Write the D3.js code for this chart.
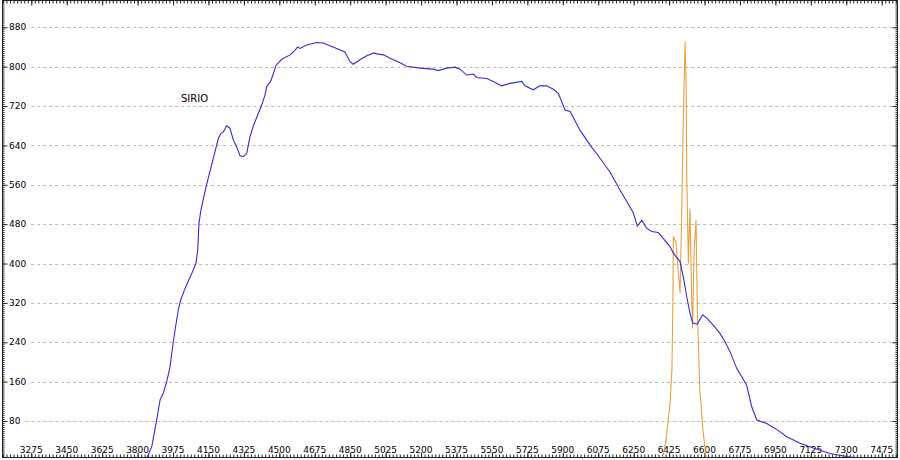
<!DOCTYPE html>
<html><head><meta charset="utf-8">
<script src="https://cdn.jsdelivr.net/npm/d3@7"></script>
<style>html,body{margin:0;padding:0;background:#fff;}svg{display:block;}</style>
</head><body>
<svg id="c" width="900" height="460"></svg>
<script>
// ---- data ----
const xTickLabels = [3275,3450,3625,3800,3975,4150,4325,4500,4675,4850,5025,5200,5375,5550,5725,5900,6075,6250,6425,6600,6775,6950,7125,7300,7475];
const yTickLabels = [80,160,240,320,400,480,560,640,720,800,880];
const seriesName = "SIRIO";
const sirioWl = [3830,3840,3870,3894,3911,3927,3944,3960,3976,3985,4001,4013,4030,4050,4070,4088,4097,4103,4113,4138,4174,4199,4212,4223,4240,4256,4273,4289,4306,4322,4339,4355,4371,4396,4413,4429,4438,4457,4470,4484,4512,4553,4577,4590,4602,4635,4685,4717,4783,4824,4849,4865,4898,4932,4968,4981,5014,5047,5096,5129,5195,5260,5285,5327,5368,5392,5425,5458,5475,5524,5557,5598,5639,5697,5713,5754,5787,5821,5853,5878,5911,5936,5985,6034,6084,6133,6183,6216,6248,6268,6290,6314,6339,6372,6396,6430,6446,6479,6495,6512,6528,6542,6564,6591,6611,6643,6676,6701,6726,6759,6784,6808,6833,6858,6907,6948,6973,7006,7072,7137,7220,7302,7343];
const sirioFlux = [-15,0,28,82,123,137,160,190,240,265,306,326,345,364,382,400,428,482,509,556,614,654,665,667,680,675,651,637,619,617,624,658,679,705,722,742,760,770,785,803,815,824,833,840,837,844,849,848,837,830,810,805,814,822,828,826,824,817,808,801,797,795,792,797,799,795,783,785,778,776,770,761,766,770,761,753,761,761,754,746,712,709,671,641,614,586,549,526,503,476,488,472,465,463,451,434,421,404,373,333,299,279,277,296,289,275,258,241,221,187,170,153,109,82,75,65,58,48,35,25,14,8,6];
const lampWl = [6375,6390,6410,6429,6439,6444,6446,6459,6479,6487,6495,6504,6509,6512,6520,6528,6537,6541,6548,6558,6564,6569,6577,6592,6610,6620];
const lampFlux = [-20,0,41,113,184,326,455,441,340,495,692,851,766,590,400,512,319,268,421,488,319,245,143,62,0,-20];

// ---- layout ----
const W = 900, H = 460;
const frame = {l: 2.5, t: 0.5, r: 897.5, b: 457.5};
const svg = d3.select("#c");
const x = d3.scaleLinear().domain([3275, 7475]).range([31.3, 881.7]);
const y = d3.scaleLinear().domain([0, 880]).range([460.4, 27.3]);
const font = "'DejaVu Sans', Verdana, sans-serif";

svg.append("rect").attr("width", W).attr("height", H).attr("fill", "#fff");

svg.append("defs").append("clipPath").attr("id", "clip")
  .append("rect").attr("x", frame.l).attr("y", frame.t)
  .attr("width", frame.r - frame.l).attr("height", frame.b - frame.t);

// y labels + gridlines
const yl = svg.append("g");
yTickLabels.forEach(v => {
  const t = yl.append("text").attr("x", 9).attr("y", y(v)).attr("dy", "0.35em")
    .attr("font-family", font).attr("font-size", 9).attr("fill", "#000").text(v);
  const w = t.node().getComputedTextLength();
  yl.append("line").attr("x1", 9 + w + 5).attr("x2", 893)
    .attr("y1", Math.round(y(v)) + 0.5).attr("y2", Math.round(y(v)) + 0.5)
    .attr("stroke", "#b8b8b8").attr("stroke-dasharray", "3,3");
});

// x labels
svg.append("g").selectAll("text").data(xTickLabels).join("text")
  .attr("x", d => x(d)).attr("y", 453).attr("text-anchor", "middle")
  .attr("font-family", font).attr("font-size", 9).attr("fill", "#000").text(d => d);

// ruler-like frame axes
const xMinor = d3.range(3275 - 175, 7475 + 176, 17.5).filter(v => x(v) > frame.l && x(v) < frame.r);
const yMinor = d3.range(0, 940, 4).filter(v => y(v) > frame.t && y(v) < frame.b);
const xAxisB = d3.axisTop(x).tickValues(xMinor).tickSize(3).tickFormat("");
const xAxisT = d3.axisBottom(x).tickValues(xMinor).tickSize(3).tickFormat("");
const yAxisL = d3.axisRight(y).tickValues(yMinor).tickSize(2).tickFormat("");
const yAxisR = d3.axisLeft(y).tickValues(yMinor).tickSize(2).tickFormat("");
function style(g){ g.select(".domain").remove(); g.selectAll("line").attr("stroke", "#222"); }
svg.append("g").attr("transform", `translate(0,${frame.b})`).call(xAxisB).call(style);
svg.append("g").attr("transform", `translate(0,${frame.t})`).call(xAxisT).call(style);
svg.append("g").attr("transform", `translate(${frame.l},0)`).call(yAxisL).call(style);
svg.append("g").attr("transform", `translate(${frame.r},0)`).call(yAxisR).call(style);
// major ticks
svg.append("g").attr("transform", `translate(0,${frame.b})`).call(d3.axisTop(x).tickValues(xTickLabels).tickSize(5).tickFormat("")).call(style);
svg.append("g").attr("transform", `translate(0,${frame.t})`).call(d3.axisBottom(x).tickValues(xTickLabels).tickSize(5).tickFormat("")).call(style);
svg.append("g").attr("transform", `translate(${frame.l},0)`).call(d3.axisRight(y).tickValues(yTickLabels).tickSize(5).tickFormat("")).call(style);
svg.append("g").attr("transform", `translate(${frame.r},0)`).call(d3.axisLeft(y).tickValues(yTickLabels).tickSize(5).tickFormat("")).call(style);

svg.append("rect").attr("x", frame.l).attr("y", frame.t)
  .attr("width", frame.r - frame.l).attr("height", frame.b - frame.t)
  .attr("fill", "none").attr("stroke", "#222");

// series
const line = d3.line().x(d => x(d[0])).y(d => y(d[1]));
const plot = svg.append("g").attr("clip-path", "url(#clip)");
plot.append("path").datum(lampWl.map((w, i) => [w, lampFlux[i]]))
  .attr("d", line).attr("fill", "none").attr("stroke", "#e8a040").attr("stroke-width", 1.1);
plot.append("path").datum(sirioWl.map((w, i) => [w, sirioFlux[i]]))
  .attr("d", line).attr("fill", "none").attr("stroke", "#2f2fd0").attr("stroke-width", 1.1);

svg.append("text").attr("x", 181).attr("y", 102).attr("font-family", font)
  .attr("font-size", 10).attr("fill", "#000").text(seriesName);
</script>
</body></html>
